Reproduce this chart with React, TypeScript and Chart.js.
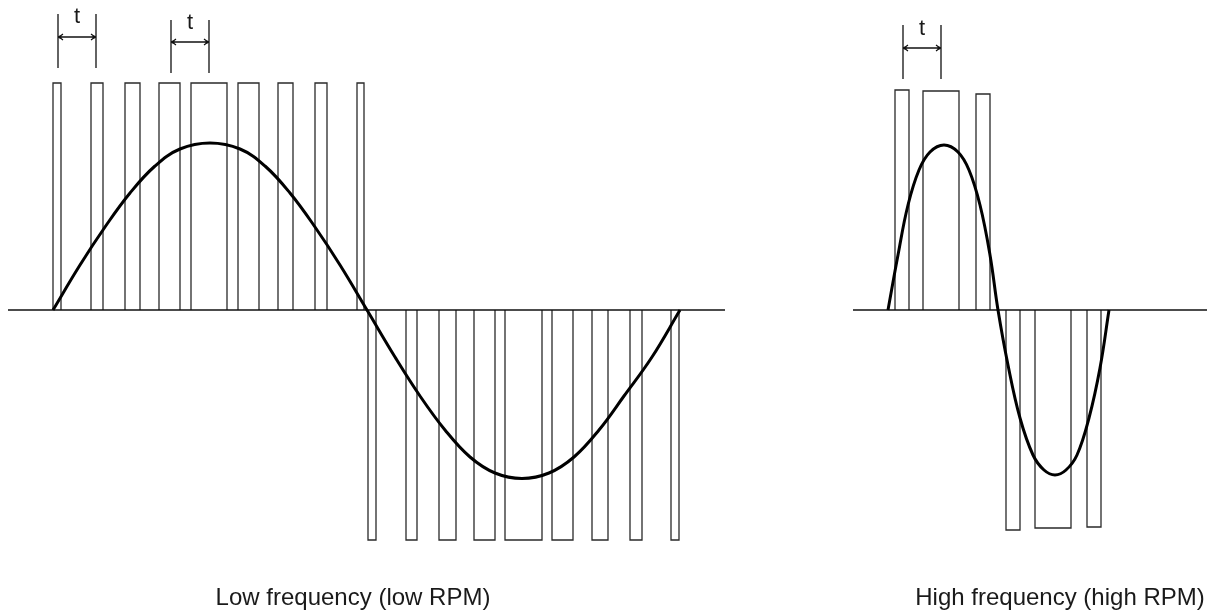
import { useEffect, useRef } from "react";
import { Chart, registerables } from "chart.js";

Chart.register(...registerables);

// ---- Data (time base on x, amplitude on y, baseline = 0) ----
const LOW_POS_PULSE_START = [53, 91, 125, 159, 191, 238, 278, 315, 357];
const LOW_POS_PULSE_END = [61, 103, 140, 180, 227, 259, 293, 327, 364];
const LOW_POS_PULSE_HEIGHT = 227;
const LOW_NEG_PULSE_START = [368, 406, 439, 474, 505, 552, 592, 630, 671];
const LOW_NEG_PULSE_END = [376, 417, 456, 495, 542, 573, 608, 642, 679];
const LOW_NEG_PULSE_HEIGHT = -230;

const HIGH_PULSE_START = [895, 923, 976, 1006, 1035, 1087];
const HIGH_PULSE_END = [909, 959, 990, 1020, 1071, 1101];
const HIGH_PULSE_HEIGHT = [220, 219, 216, -220, -218, -217];

const LOW_WAVE_T = [53, 80, 105, 130, 155, 180, 210, 240, 265, 290, 315, 340, 367,
  395, 420, 445, 470, 495, 522, 549, 574, 599, 624, 652, 680];
const LOW_WAVE_V = [0, 45, 83, 117, 144, 161, 167, 161, 144, 117, 83, 45, 0,
  -47, -86, -120, -147, -163, -168.5, -163, -147, -120, -86, -47, 0];

const HIGH_WAVE_T = [888, 898, 908, 919, 930, 944, 958, 969, 980, 990, 998,
  1008, 1020, 1033, 1044, 1055, 1066, 1077, 1089, 1100, 1109];
const HIGH_WAVE_V = [0, 55, 105, 140, 158, 165, 158, 140, 105, 55, 0,
  -55, -108, -145, -160, -165, -160, -145, -108, -58, 0];

const BASELINE_START = [8, 853];
const BASELINE_END = [725, 1207];

const T_MARK_START = [58, 171, 903];
const T_MARK_END = [96, 209, 941];
const T_MARK_TOP = [296, 290, 285];
const T_MARK_BOTTOM = [242, 237, 231];
const T_MARK_ARROW = [273, 268, 262];
const T_LABEL = "t";
const T_LABEL_POS = [77, 190, 922];
const T_LABEL_LEVEL = [287, 281, 275];

const CAPTIONS = ["Low frequency (low RPM)", "High frequency (high RPM)"];
const CAPTION_POS = [353, 1060];
const CAPTION_LEVEL = -295;

const X_RANGE = [0, 1215];
const Y_RANGE = [-302, 310];

type P = { x: number; y: number };

function pulse(x0: number, x1: number, h: number): P[] {
  return [
    { x: x0, y: 0 },
    { x: x0, y: h },
    { x: x1, y: h },
    { x: x1, y: 0 },
  ];
}

export default function App() {
  const ref = useRef<HTMLCanvasElement | null>(null);

  useEffect(() => {
    if (!ref.current) return;
    const datasets: any[] = [];
    const pulseStyle = {
      borderColor: "#2a2a2a",
      borderWidth: 1.3,
      showLine: true,
      pointRadius: 0,
      fill: false,
      tension: 0,
      order: 2,
    };
    LOW_POS_PULSE_START.forEach((s, i) =>
      datasets.push({ ...pulseStyle, data: pulse(s, LOW_POS_PULSE_END[i], LOW_POS_PULSE_HEIGHT) })
    );
    LOW_NEG_PULSE_START.forEach((s, i) =>
      datasets.push({ ...pulseStyle, data: pulse(s, LOW_NEG_PULSE_END[i], LOW_NEG_PULSE_HEIGHT) })
    );
    HIGH_PULSE_START.forEach((s, i) =>
      datasets.push({ ...pulseStyle, data: pulse(s, HIGH_PULSE_END[i], HIGH_PULSE_HEIGHT[i]) })
    );
    BASELINE_START.forEach((s, i) =>
      datasets.push({
        ...pulseStyle,
        borderColor: "#111",
        borderWidth: 1.5,
        order: 1,
        data: [
          { x: s, y: 0 },
          { x: BASELINE_END[i], y: 0 },
        ],
      })
    );
    T_MARK_START.forEach((s, i) => {
      const e = T_MARK_END[i];
      datasets.push({ ...pulseStyle, borderColor: "#111", data: [{ x: s, y: T_MARK_TOP[i] }, { x: s, y: T_MARK_BOTTOM[i] }] });
      datasets.push({ ...pulseStyle, borderColor: "#111", data: [{ x: e, y: T_MARK_TOP[i] }, { x: e, y: T_MARK_BOTTOM[i] }] });
      datasets.push({ ...pulseStyle, borderColor: "#111", data: [{ x: s, y: T_MARK_ARROW[i] }, { x: e, y: T_MARK_ARROW[i] }] });
    });
    const waveStyle = {
      borderColor: "#000",
      borderWidth: 3,
      showLine: true,
      pointRadius: 0,
      fill: false,
      tension: 0.4,
      order: 0,
    };
    datasets.push({ ...waveStyle, data: LOW_WAVE_T.map((t, i) => ({ x: t, y: LOW_WAVE_V[i] })) });
    datasets.push({ ...waveStyle, data: HIGH_WAVE_T.map((t, i) => ({ x: t, y: HIGH_WAVE_V[i] })) });

    const annotate = {
      id: "annotate",
      afterDatasetsDraw(chart: any) {
        const ctx = chart.ctx as CanvasRenderingContext2D;
        const xs = chart.scales.x;
        const ys = chart.scales.y;
        ctx.save();
        ctx.strokeStyle = "#111";
        ctx.fillStyle = "#111";
        ctx.lineWidth = 1.2;
        T_MARK_START.forEach((s, i) => {
          const x0 = xs.getPixelForValue(s);
          const x1 = xs.getPixelForValue(T_MARK_END[i]);
          const y = ys.getPixelForValue(T_MARK_ARROW[i]);
          ctx.beginPath();
          ctx.moveTo(x0 + 5, y - 3);
          ctx.lineTo(x0 + 1, y);
          ctx.lineTo(x0 + 5, y + 3);
          ctx.moveTo(x1 - 5, y - 3);
          ctx.lineTo(x1 - 1, y);
          ctx.lineTo(x1 - 5, y + 3);
          ctx.stroke();
          ctx.beginPath();
          ctx.arc(x0 + 2, y, 1.6, 0, Math.PI * 2);
          ctx.arc(x1 - 2, y, 1.6, 0, Math.PI * 2);
          ctx.fill();
        });
        ctx.fillStyle = "#1a1a1a";
        ctx.textAlign = "center";
        ctx.textBaseline = "alphabetic";
        ctx.font = '22px "Liberation Sans", Arial, sans-serif';
        T_LABEL_POS.forEach((p, i) => {
          ctx.fillText(T_LABEL, xs.getPixelForValue(p), ys.getPixelForValue(T_LABEL_LEVEL[i]));
        });
        ctx.font = '24px "Liberation Sans", Arial, sans-serif';
        CAPTIONS.forEach((c, i) => {
          ctx.fillText(c, xs.getPixelForValue(CAPTION_POS[i]), ys.getPixelForValue(CAPTION_LEVEL));
        });
        ctx.restore();
      },
    };

    const chart = new Chart(ref.current, {
      type: "scatter",
      data: { datasets },
      options: {
        animation: false,
        responsive: false,
        maintainAspectRatio: false,
        layout: { padding: 0 },
        plugins: { legend: { display: false }, tooltip: { enabled: false } },
        scales: {
          x: { type: "linear", display: false, min: X_RANGE[0], max: X_RANGE[1] },
          y: { type: "linear", display: false, min: Y_RANGE[0], max: Y_RANGE[1] },
        },
      },
      plugins: [annotate],
    } as any);
    return () => chart.destroy();
  }, []);

  return (
    <div style={{ position: "fixed", left: 0, top: 0, width: 1215, height: 612, background: "#fff" }}>
      <canvas ref={ref} width={1215} height={612} style={{ width: 1215, height: 612, display: "block" }} />
    </div>
  );
}
